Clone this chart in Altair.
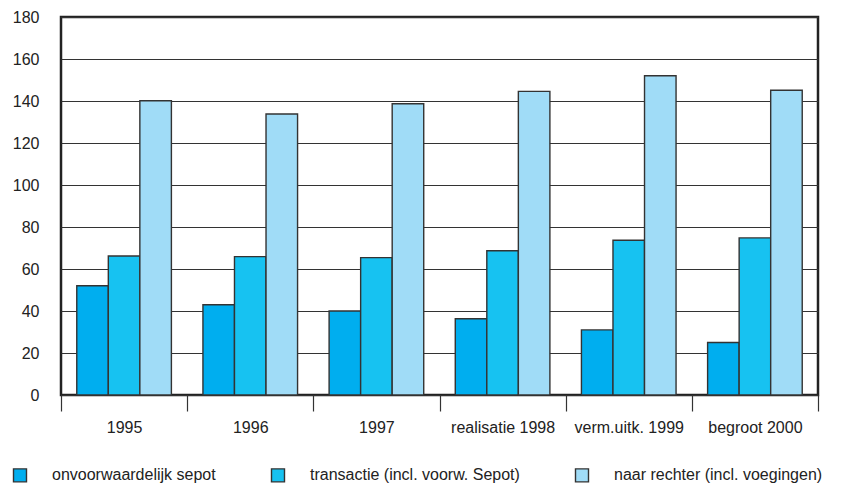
import altair as alt
import pandas as pd

categories = ["1995", "1996", "1997", "realisatie 1998", "verm.uitk. 1999", "begroot 2000"]
series_names = ["onvoorwaardelijk sepot", "transactie (incl. voorw. Sepot)", "naar rechter (incl. voegingen)"]
onvoorwaardelijk = [52, 43, 40, 36.3, 31, 25]
transactie = [66.2, 65.9, 65.4, 68.7, 73.7, 74.8]
naar_rechter = [140.1, 133.8, 138.7, 144.6, 152, 145.1]
colors = ["#00AEEF", "#17C2F1", "#A0DCF7"]

rows = []
for i, c in enumerate(categories):
    for s, vals in zip(series_names, [onvoorwaardelijk, transactie, naar_rechter]):
        rows.append({"cat": c, "serie": s, "value": vals[i]})
df = pd.DataFrame(rows)

FONT = "Liberation Sans"

chart = alt.Chart(df).mark_bar(stroke="#333333", strokeWidth=1.4).encode(
    x=alt.X("cat:N", sort=categories, title=None,
            scale=alt.Scale(paddingInner=0, paddingOuter=0),
            axis=alt.Axis(labelAngle=0, tickBand="extent", tickSize=16, tickColor="#333333",
                          tickWidth=1.2, domain=False, labelPadding=8, labelFontSize=16,
                          labelColor="#222222", labelFont=FONT, grid=False)),
    xOffset=alt.XOffset("serie:N", sort=series_names,
                        scale=alt.Scale(paddingInner=0, paddingOuter=0.5)),
    y=alt.Y("value:Q", title=None,
            scale=alt.Scale(domain=[0, 180], nice=False),
            axis=alt.Axis(values=list(range(0, 181, 20)), ticks=False, domain=False,
                          labelPadding=22, labelFontSize=16, labelColor="#222222",
                          labelFont=FONT, grid=True, gridColor="#333333", gridWidth=1)),
    color=alt.Color("serie:N", sort=series_names,
                    scale=alt.Scale(domain=series_names, range=colors),
                    legend=alt.Legend(title=None, orient="none", direction="horizontal",
                                      legendX=-49, legendY=450, padding=0,
                                      symbolType="square", symbolSize=169,
                                      symbolStrokeColor="#333333", symbolStrokeWidth=1.4,
                                      symbolOpacity=1,
                                      labelOffset=24, columnPadding=52,
                                      labelFontSize=16, labelFont=FONT, labelColor="#222222",
                                      labelLimit=400)),
).properties(
    width=757, height=378,
    autosize=alt.AutoSizeParams(type="none"),
    padding={"left": 53, "top": 9, "right": 16, "bottom": 90},
).configure_view(
    stroke="#222222", strokeWidth=2.5
)

chart.save("out.html", embed_options={"renderer": "svg", "actions": False})
